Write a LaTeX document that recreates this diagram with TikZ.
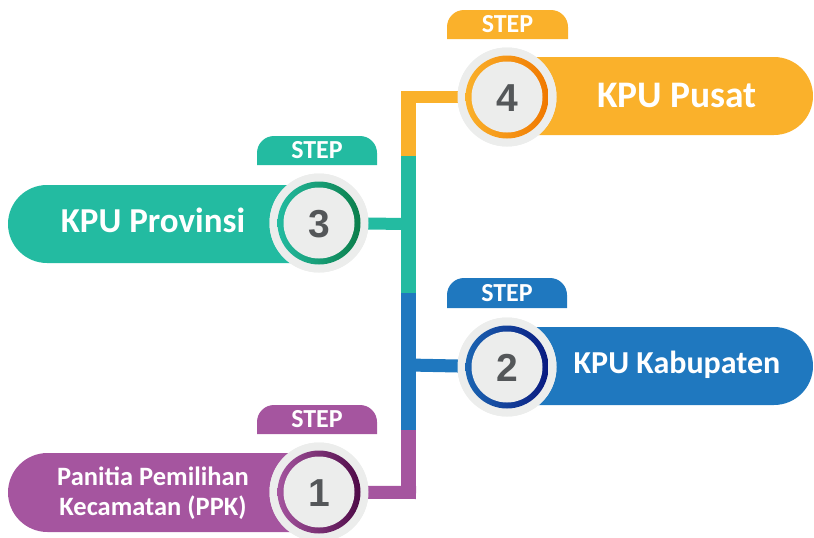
\documentclass[tikz,border=0pt]{standalone}
\usepackage{fontspec}
\setmainfont{Carlito}
\newfontfamily\numfont{Liberation Sans}
\usetikzlibrary{shapes.misc}
\definecolor{cOr}{HTML}{FAB12B}
\definecolor{cOrD}{HTML}{F07800}
\definecolor{cTe}{HTML}{23BBA1}
\definecolor{cTeD}{HTML}{0B7E4A}
\definecolor{cBl}{HTML}{1F78BF}
\definecolor{cBlD}{HTML}{0A1A80}
\definecolor{cPu}{HTML}{A5559F}
\definecolor{cPuD}{HTML}{4E0A47}
\definecolor{cGr}{HTML}{ECEDEC}
\definecolor{cNum}{HTML}{545759}
\tikzset{
  barbox/.style={rounded rectangle, inner sep=0pt, minimum height=78pt, draw=none},
  bartext/.style={text=white, font=\bfseries, anchor=base, inner sep=0pt},
  steptext/.style={text=white, font=\bfseries\fontsize{26}{28}\selectfont, anchor=base, inner sep=0pt},
  graydisk/.style={circle, fill=cGr, minimum size=99pt, inner sep=0pt},
  numtext/.style={text=cNum, font=\numfont\bfseries\fontsize{39}{40}\selectfont, anchor=base, inner sep=0pt},
  link/.style={line cap=butt},
}
\newcommand{\ringat}[3]{%
  \shade[left color=#2, right color=#3] (#1) circle[radius=41.5];
  \fill[cGr] (#1) circle[radius=35.5];
}
\begin{document}
\begin{tikzpicture}[x=1pt,y=-1pt]
\useasboundingbox (0,0) rectangle (814,538);
% junction coordinates
\coordinate (j4) at (408.5,97);
\coordinate (j4b) at (408.5,156);
\coordinate (j3t) at (408.5,156);
\coordinate (j3) at (408.5,224);
\coordinate (j3b) at (408.5,293);
\coordinate (j2) at (408.5,365);
\coordinate (j2b) at (408.5,430);
\coordinate (j1) at (408.5,492.5);
% bars
\node[barbox, fill=cOr, rounded rectangle west arc=none, minimum width=333pt] (bar4) at (646.5,96) {};
\node[barbox, fill=cTe, rounded rectangle east arc=none, minimum width=292pt] (bar3) at (154,224) {};
\node[barbox, fill=cBl, rounded rectangle west arc=none, minimum width=333pt] (bar2) at (646.5,366) {};
\node[barbox, fill=cPu, rounded rectangle east arc=none, minimum width=292pt, minimum height=79pt] (bar1) at (154,492.5) {};
% tabs
\fill[cOr] (447,39) [rounded corners=17] -- (447,10) -- (568,10) [sharp corners] -- (568,39) -- cycle;
\fill[cTe] (257,165) [rounded corners=17] -- (257,136) -- (377,136) [sharp corners] -- (377,165) -- cycle;
\fill[cBl] (447,308) [rounded corners=17] -- (447,278) -- (567,278) [sharp corners] -- (567,308) -- cycle;
\fill[cPu] (257,434) [rounded corners=17] -- (257,405) -- (377,405) [sharp corners] -- (377,434) -- cycle;
\node[steptext] (s4) at (507.5,32) {STEP};
\node[steptext] (s3) at (317,158) {STEP};
\node[steptext] (s2) at (507,301) {STEP};
\node[steptext] (s1) at (317,427) {STEP};
% gray disks (nodes)
\node[graydisk] (c4) at (507,97) {};
\node[graydisk] (c3) at (319,223) {};
\node[graydisk] (c2) at (507,367) {};
\node[graydisk] (c1) at (319,492) {};
% connectors
\draw[link, cOr, line width=12pt] (c4.center) -- ([xshift=-7.5pt]j4);
\draw[link, cOr, line width=15pt] ([yshift=6pt]j4) -- (j4b);
\draw[link, cTe, line width=15pt] (j3t) -- (j3b);
\draw[link, cTe, line width=12pt] (c3.center) -- (j3);
\draw[link, cBl, line width=15pt] (j3b) -- (j2b);
\draw[link, cBl, line width=13pt] (j2) -- (c2.center);
\draw[link, cPu, line width=15pt] (j2b) -- ([yshift=-6.5pt]j1);
\draw[link, cPu, line width=13pt] (c1.center) -- ([xshift=7.5pt]j1);
% redraw disks over connectors
\fill[cGr] (c4) circle[radius=49.5];
\fill[cGr] (c3) circle[radius=49.5];
\fill[cGr] (c2) circle[radius=49.5];
\fill[cGr] (c1) circle[radius=49.5];
\ringat{c4}{cOr}{cOrD}
\ringat{c3}{cTe}{cTeD}
\ringat{c2}{cBl!80!cBlD}{cBlD}
\ringat{c1}{cPu}{cPuD}
\node[numtext] (n4) at (507,111) {4};
\node[numtext] (n3) at (319,237) {3};
\node[numtext] (n2) at (507,381) {2};
\node[numtext] (n1) at (319,506) {1};
% bar texts
\node[bartext, font=\bfseries\fontsize{37.5}{40}\selectfont] (t4) at (677,107) {KPU Pusat};
\node[bartext, font=\bfseries\fontsize{35}{38}\selectfont] (t3) at (153,232) {KPU Provinsi};
\node[bartext, font=\bfseries\fontsize{32}{35}\selectfont] (t2) at (677,373) {KPU Kabupaten};
\node[bartext, font=\bfseries\fontsize{26.5}{30}\selectfont] (t1a) at (153,485) {Panitia Pemilihan};
\node[bartext, font=\bfseries\fontsize{26.5}{30}\selectfont] (t1b) at (153,515) {Kecamatan (PPK)};
\end{tikzpicture}
\end{document}
